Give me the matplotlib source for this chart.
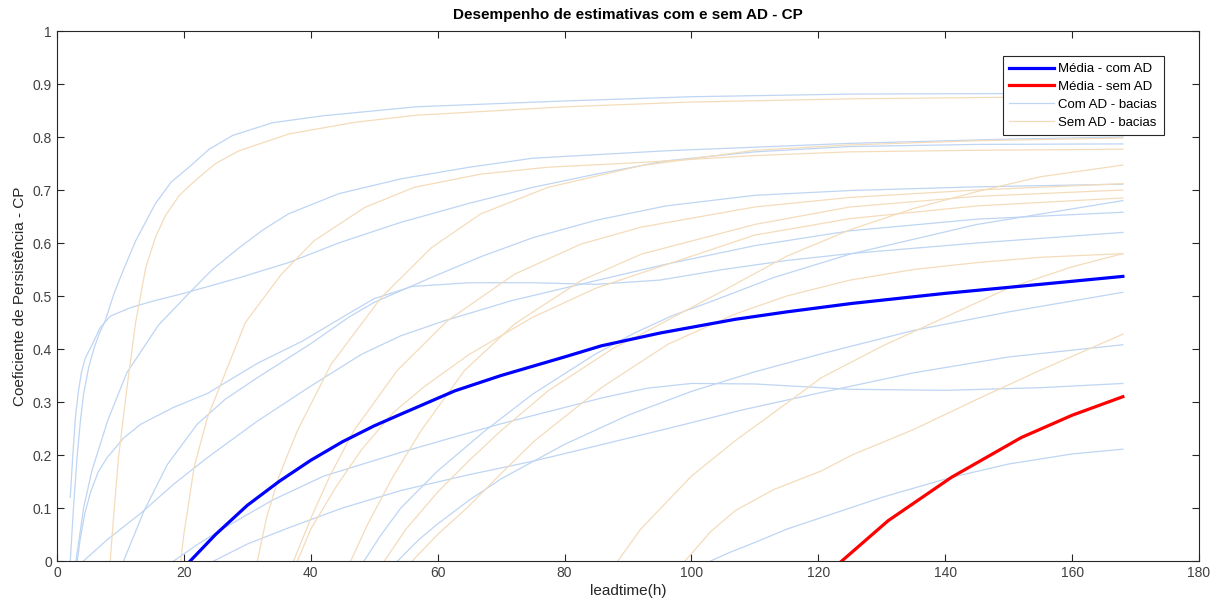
import matplotlib
matplotlib.use('Agg')
import matplotlib.pyplot as plt

plt.rcParams['font.family'] = ['Liberation Sans', 'DejaVu Sans']

# --- curvas "Com AD" por bacia (leadtime h, CP) ---
com_x = [
    [2.1, 2.6, 3.2, 3.7, 4.2, 5, 5.8, 6.7, 7.6, 9, 10.5, 12.4, 15.5, 18, 20.7, 24, 27.7, 34, 41.9, 56.6, 80, 100, 125, 150, 168],
    [3, 4.2, 5.5, 8, 11, 16, 20.7, 24.5, 28.6, 32.5, 36.5, 44.4, 54.2, 65, 75, 96, 125, 150, 168],
    [2.1, 2.5, 2.9, 3.4, 3.9, 4.5, 5.3, 6.8, 8.4, 11.6, 15, 20, 28.6, 36.5, 44.4, 54.2, 65, 75, 85, 96, 110, 125, 145, 168],
    [10.5, 13.7, 17.4, 22.1, 26.5, 31.6, 40, 46, 50, 54.2, 60, 67, 75, 85, 96, 110, 125, 145, 168],
    [3.2, 3.7, 4.4, 5.3, 6.5, 7.9, 10.5, 13.2, 18.4, 23.7, 31.6, 38.7, 45, 50, 56, 65, 75, 85, 95, 105, 115, 125, 145, 168],
    [4.2, 7.9, 13.2, 18.4, 23.7, 31.6, 40, 48, 54.2, 61, 71.6, 80, 96, 110, 125, 145, 168],
    [18.4, 22, 26, 34, 42, 54.2, 70, 86, 93, 100, 110, 125, 140, 155, 168],
    [24.7, 30, 36.6, 45, 54.2, 65, 75.3, 86, 96.3, 108, 120.5, 135, 150, 168],
    [48.4, 51, 54.2, 60, 67.4, 75, 84.8, 91, 97, 103.2, 113, 125, 145, 168],
    [53.7, 57, 60, 65, 70, 80, 90, 100, 110, 120.5, 135, 150, 168],
    [103, 106, 110, 115, 120.5, 130, 141, 150, 160, 168],
]
com_y = [
    [0, 0.1, 0.2, 0.265, 0.315, 0.365, 0.40, 0.43, 0.453, 0.505, 0.55, 0.604, 0.674, 0.715, 0.742, 0.777, 0.803, 0.827, 0.84, 0.857, 0.868, 0.876, 0.881, 0.882, 0.882],
    [0, 0.1, 0.17, 0.265, 0.355, 0.445, 0.504, 0.55, 0.59, 0.625, 0.655, 0.693, 0.721, 0.743, 0.76, 0.774, 0.788, 0.796, 0.80],
    [0.12, 0.2, 0.27, 0.322, 0.358, 0.384, 0.402, 0.44, 0.462, 0.478, 0.49, 0.505, 0.534, 0.563, 0.60, 0.639, 0.675, 0.705, 0.73, 0.755, 0.772, 0.782, 0.786, 0.787],
    [0, 0.094, 0.182, 0.258, 0.305, 0.346, 0.41, 0.46, 0.488, 0.51, 0.54, 0.575, 0.61, 0.643, 0.67, 0.69, 0.699, 0.706, 0.711],
    [0, 0.044, 0.09, 0.13, 0.168, 0.195, 0.232, 0.258, 0.29, 0.316, 0.373, 0.415, 0.46, 0.495, 0.518, 0.525, 0.525, 0.522, 0.53, 0.55, 0.567, 0.58, 0.60, 0.62],
    [0, 0.04, 0.09, 0.145, 0.195, 0.264, 0.33, 0.39, 0.425, 0.453, 0.491, 0.515, 0.56, 0.595, 0.623, 0.645, 0.658],
    [0, 0.03, 0.06, 0.115, 0.16, 0.205, 0.259, 0.308, 0.326, 0.335, 0.334, 0.324, 0.322, 0.327, 0.335],
    [0, 0.032, 0.063, 0.1, 0.133, 0.163, 0.189, 0.22, 0.25, 0.285, 0.318, 0.355, 0.385, 0.408],
    [0, 0.048, 0.1, 0.17, 0.245, 0.315, 0.39, 0.43, 0.463, 0.49, 0.535, 0.579, 0.635, 0.68],
    [0, 0.04, 0.07, 0.115, 0.155, 0.22, 0.275, 0.32, 0.357, 0.391, 0.435, 0.47, 0.507],
    [0, 0.016, 0.035, 0.06, 0.082, 0.12, 0.158, 0.183, 0.202, 0.211],
]

# --- curvas "Sem AD" por bacia ---
sem_x = [
    [8.4, 8.9, 9.7, 11.1, 12.4, 14, 15.5, 17.1, 19.3, 21.8, 25, 28.7, 36.6, 47.1, 56.6, 80, 100, 125, 150, 168],
    [19.5, 20, 21.6, 23.7, 25.8, 29.7, 35.3, 40.5, 48.5, 56.3, 66.8, 77.4, 92.1, 110, 125, 145, 168],
    [31.6, 33, 35, 37.9, 43.2, 51.1, 59, 66.8, 77.4, 92.1, 110, 125, 145, 168],
    [37.3, 40, 43, 46.8, 53.6, 61.5, 72.1, 82.6, 92.1, 110, 125, 145, 168],
    [37.9, 40, 44, 48, 53, 58, 65, 75, 85, 95, 110, 125, 145, 168],
    [46.3, 49, 53, 57.4, 64.2, 72.1, 82.6, 92.1, 110, 125, 145, 168],
    [51.6, 55, 60, 65, 70, 77.4, 87.9, 92.1, 105, 115, 125, 135, 145, 155, 168],
    [56, 60, 64.7, 70, 75.3, 85.8, 96.3, 106.9, 115, 125, 135, 145, 155, 168],
    [88.4, 92, 96.3, 100, 106.9, 113, 120.5, 130, 140, 150, 160, 168],
    [99, 103, 106.9, 113, 120.5, 125.3, 135, 145, 155, 168],
]
sem_y = [
    [0, 0.08, 0.195, 0.333, 0.45, 0.554, 0.61, 0.652, 0.69, 0.718, 0.75, 0.774, 0.806, 0.828, 0.841, 0.857, 0.866, 0.872, 0.875, 0.876],
    [0, 0.05, 0.176, 0.27, 0.333, 0.45, 0.54, 0.604, 0.667, 0.705, 0.73, 0.743, 0.752, 0.765, 0.772, 0.775, 0.777],
    [0, 0.08, 0.16, 0.246, 0.371, 0.497, 0.591, 0.655, 0.705, 0.746, 0.775, 0.785, 0.793, 0.798],
    [0, 0.08, 0.16, 0.246, 0.359, 0.453, 0.541, 0.598, 0.63, 0.668, 0.686, 0.70, 0.712],
    [0, 0.06, 0.14, 0.21, 0.28, 0.33, 0.39, 0.46, 0.515, 0.555, 0.615, 0.646, 0.67, 0.685],
    [0, 0.07, 0.16, 0.246, 0.359, 0.447, 0.529, 0.579, 0.635, 0.668, 0.688, 0.70],
    [0, 0.06, 0.13, 0.19, 0.246, 0.321, 0.403, 0.428, 0.51, 0.575, 0.625, 0.665, 0.697, 0.725, 0.747],
    [0, 0.05, 0.101, 0.165, 0.227, 0.327, 0.409, 0.466, 0.5, 0.53, 0.55, 0.563, 0.573, 0.58],
    [0, 0.06, 0.114, 0.16, 0.227, 0.28, 0.346, 0.405, 0.46, 0.515, 0.555, 0.58],
    [0, 0.055, 0.095, 0.135, 0.17, 0.2, 0.248, 0.305, 0.36, 0.428],
]

# medias
media_com_x = [21, 25, 30, 35, 40, 45, 50, 54.2, 62.7, 70, 80, 85.8, 95, 106.9, 115, 125.3, 140, 155, 168]
media_com_y = [0, 0.05, 0.105, 0.15, 0.19, 0.225, 0.255, 0.277, 0.321, 0.35, 0.385, 0.406, 0.43, 0.456, 0.47, 0.486, 0.505, 0.522, 0.537]
media_sem_x = [123.7, 131, 141, 152, 160, 168]
media_sem_y = [0, 0.076, 0.158, 0.233, 0.275, 0.31]

cor_com = '#bed5f3'
cor_sem = '#f4dcbb'

fig = plt.figure(figsize=(12.17, 6.08), dpi=100)
ax = fig.add_axes([0.0468, 0.0773, 0.9384, 0.8717])

for i in range(len(com_x)):
    ax.plot(com_x[i], com_y[i], color=cor_com, lw=0.9)
for i in range(len(sem_x)):
    ax.plot(sem_x[i], sem_y[i], color=cor_sem, lw=0.9)

l1, = ax.plot(media_com_x, media_com_y, color='#0000ff', lw=2.3)
l2, = ax.plot(media_sem_x, media_sem_y, color='#ff0000', lw=2.3)
l3, = ax.plot([], [], color=cor_com, lw=0.9)
l4, = ax.plot([], [], color=cor_sem, lw=0.9)

ax.set_xlim(0, 180)
ax.set_ylim(0, 1)
ax.set_xticks(range(0, 181, 20))
yt = [i / 10 for i in range(11)]
ax.set_yticks(yt)
ax.set_yticklabels(['0', '0.1', '0.2', '0.3', '0.4', '0.5', '0.6', '0.7', '0.8', '0.9', '1'])
ax.tick_params(direction='in', top=True, right=True, length=5, width=0.8,
               labelsize=10, colors='#262626', labelcolor='#404040')
for s in ax.spines.values():
    s.set_color('#262626')
    s.set_linewidth(0.8)

ax.set_title('Desempenho de estimativas com e sem AD - CP', fontsize=11, fontweight='bold', pad=9)
ax.set_xlabel('leadtime(h)', fontsize=11, color='#262626', labelpad=3)
ax.set_ylabel('Coeficiente de Persistência - CP', fontsize=11, color='#262626', labelpad=4)

leg = ax.legend([l1, l2, l3, l4],
                ['Média - com AD', 'Média - sem AD', 'Com AD - bacias', 'Sem AD - bacias'],
                loc='upper right', bbox_to_anchor=(0.969, 0.952), fontsize=9.5,
                handlelength=3.4, handletextpad=0.3, borderpad=0.5, labelspacing=0.42,
                fancybox=False, framealpha=1, edgecolor='#262626', borderaxespad=0)
leg.get_frame().set_linewidth(0.8)

fig.savefig('out.png', dpi=100)
